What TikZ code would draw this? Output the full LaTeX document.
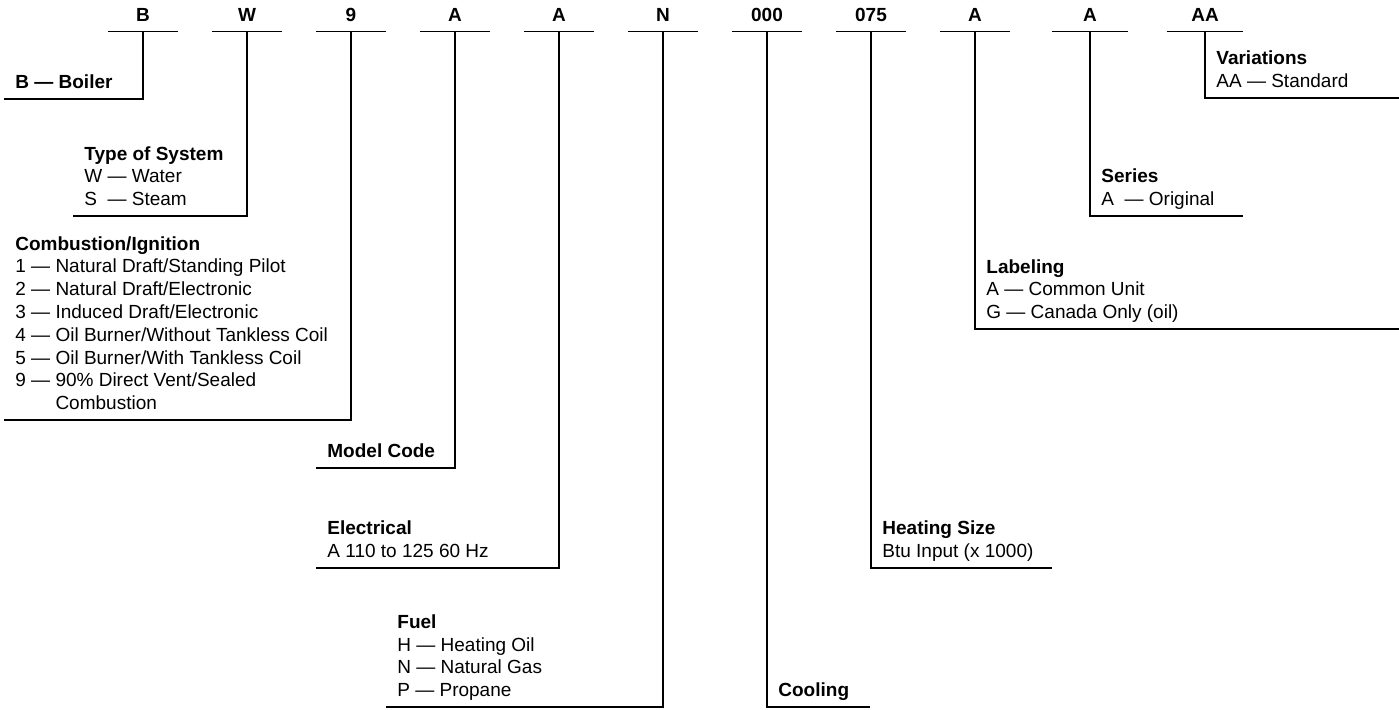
\documentclass[tikz,border=0pt]{standalone}
\usepackage{fontspec}
\setmainfont{Liberation Sans}
\usepackage{tikz}

\begin{document}
\begin{tikzpicture}[
  x=0.5pt, y=-0.5pt,
  every node/.style={inner sep=0pt, font=\fontsize{9.5}{11.4}\selectfont},
  code/.style={font=\fontsize{9.5}{11.4}\selectfont\bfseries, minimum width=35pt, inner ysep=5pt, text depth=0pt, anchor=base},
  desc/.style={align=left, anchor=south west, inner xsep=5.5pt, inner ysep=5pt, text depth=0pt},
  lead/.style={draw, line width=0.7pt}
]
\useasboundingbox (0,0) rectangle (1399,709);

% model number
\node[code] (codeB)   at (143,21)  {B};
\node[code] (codeW)   at (247,21)  {W};
\node[code] (code9)   at (351,21)  {9};
\node[code] (codeMod) at (455,21)  {A};
\node[code] (codeEl)  at (559,21)  {A};
\node[code] (codeN)   at (663,21)  {N};
\node[code] (code000) at (767,21)  {000};
\node[code] (code075) at (871,21)  {075};
\node[code] (codeLab) at (975,21)  {A};
\node[code, minimum width=38pt] (codeSer) at (1090,21) {A};
\node[code, minimum width=38pt] (codeAA)  at (1205,21) {AA};

% ends of the leaders that run to the right
\coordinate (coolEnd)  at (870,707);
\coordinate (heatEnd)  at (1052,568);
\coordinate (labEnd)   at (1399,329);
\coordinate (serEnd)   at (1243,216);
\coordinate (varEnd)   at (1399,98);

% descriptions
\node[desc] (boiler) at (4,99) {\textbf{B — Boiler}};
\node[desc] (system) at (73,216) {\textbf{Type of System}\\W — Water\\S\ \ — Steam};
\node[desc] (ignition) at (4,420) {\textbf{Combustion/Ignition}\\
  1 — Natural Draft/Standing Pilot\\
  2 — Natural Draft/Electronic\\
  3 — Induced Draft/Electronic\\
  4 — Oil Burner/Without Tankless Coil\\
  5 — Oil Burner/With Tankless Coil\\
  9 — 90\% Direct Vent/Sealed\\
  \phantom{9 — }Combustion};
\node[desc] (model) at (316,468) {\textbf{Model Code}};
\node[desc] (electrical) at (316,568) {\textbf{Electrical}\\A 110 to 125 60 Hz};
\node[desc] (fuel) at (386,707) {\textbf{Fuel}\\H — Heating Oil\\N — Natural Gas\\P — Propane};
\node[desc] (cooling) at (code000.south |- coolEnd) {\textbf{Cooling}};
\node[desc] (heating) at (code075.south |- heatEnd) {\textbf{Heating Size}\\Btu Input (x 1000)};
\node[desc] (labeling) at (codeLab.south |- labEnd) {\textbf{Labeling}\\A — Common Unit\\G — Canada Only (oil)};
\node[desc] (series) at (codeSer.south |- serEnd) {\textbf{Series}\\A\ \ — Original};
\node[desc] (variations) at (codeAA.south |- varEnd) {\textbf{Variations}\\AA — Standard};

% underlines and leaders
\foreach \n in {codeB, codeW, code9, codeMod, codeEl, codeN, code000, code075, codeLab, codeSer, codeAA}
  \draw[lead] (\n.south west) -- (\n.south east);
\draw[lead] (codeB.south) |- (boiler.south west);
\draw[lead] (codeW.south) |- (system.south west);
\draw[lead] (code9.south) |- (ignition.south west);
\draw[lead] (codeMod.south) |- (model.south west);
\draw[lead] (codeEl.south) |- (electrical.south west);
\draw[lead] (codeN.south) |- (fuel.south west);
\draw[lead] (code000.south) |- (coolEnd);
\draw[lead] (code075.south) |- (heatEnd);
\draw[lead] (codeLab.south) |- (labEnd);
\draw[lead] (codeSer.south) |- (serEnd);
\draw[lead] (codeAA.south) |- (varEnd);
\end{tikzpicture}
\end{document}
